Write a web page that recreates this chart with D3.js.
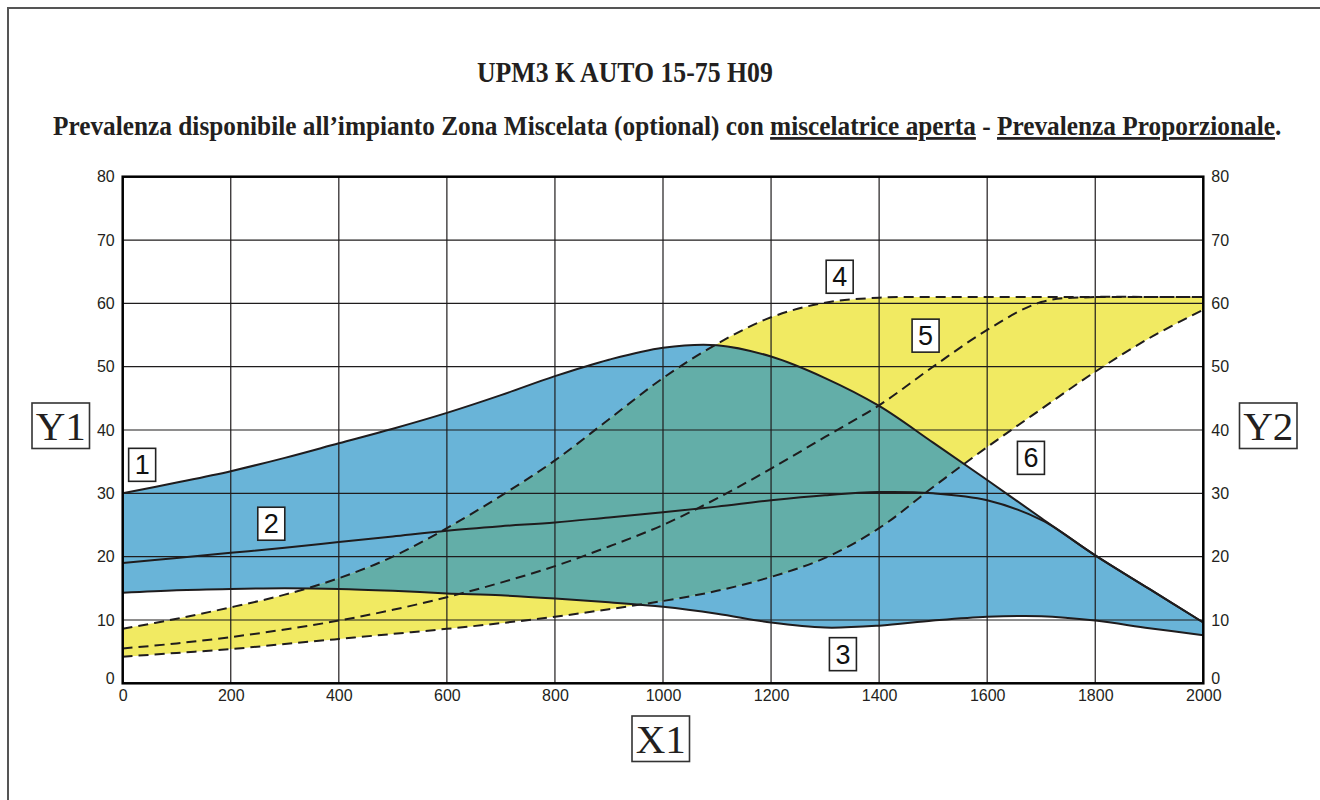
<!DOCTYPE html>
<html><head><meta charset="utf-8">
<script src="https://cdn.jsdelivr.net/npm/d3@7"></script>
<style>body{margin:0;background:#fff;overflow:hidden} svg{display:block}</style>
</head><body><svg id="c" width="1320" height="800"></svg>
<script>
// ---------- data ----------
const X = [0,100,200,300,400,500,600,700,800,900,1000,1100,1200,1300,1400,1500,1600,1700,1800,1900,2000];
// solid curves
const curve1 = [30.0,31.7,33.5,35.6,37.9,40.2,42.7,45.5,48.5,51.1,53.0,53.4,51.6,48.2,43.8,38.0,32.1,26.1,20.2,14.9,9.6];
const curve2 = [19.0,19.8,20.6,21.4,22.3,23.2,24.1,24.8,25.4,26.2,27.0,27.9,28.9,29.7,30.2,30.0,28.9,25.8,20.2,14.9,9.6];
const curve3 = [14.3,14.7,14.9,15.0,14.9,14.6,14.2,13.9,13.4,12.8,12.1,11.0,9.6,8.8,9.1,9.9,10.5,10.6,9.9,8.7,7.6];
// dashed curves
const curve4 = [8.6,10.2,12.0,14.0,16.6,20.0,24.5,29.6,35.2,41.7,48.2,53.6,57.8,60.1,60.9,61.0,61.0,61.0,61.0,61.0,61.0];
const curve5 = [5.5,6.3,7.3,8.5,9.9,11.6,13.6,15.9,18.5,21.6,25.0,29.2,33.9,38.9,43.9,50.0,55.8,60.2,61.0,61.0,61.0];
const curve6 = [4.2,4.8,5.4,6.2,7.0,7.8,8.6,9.5,10.5,11.7,13.0,14.6,16.8,19.8,24.5,31.0,37.3,43.3,49.2,54.5,59.0];
const xTicks = [0,200,400,600,800,1000,1200,1400,1600,1800,2000];
const yTicks = [0,10,20,30,40,50,60,70,80];
// numbered callouts: [label, x value, y value]
const callouts = [["1",36,34.5],["2",275,25.2],["3",1333,4.6],["4",1327,64.2],["5",1486,54.9],["6",1681,35.6]];
const title = "UPM3 K AUTO 15-75 H09";
const subtitleParts = [
  ["Prevalenza disponibile all\u2019impianto Zona Miscelata (optional) con ", false],
  ["miscelatrice aperta", true],
  [" - ", false],
  ["Prevalenza Proporzionale", true],
  [".", false]
];

// ---------- drawing ----------
const svg = d3.select('#c');
const x = d3.scaleLinear().domain([0,2000]).range([122.7,1203.3]);
const y = d3.scaleLinear().domain([0,80]).range([683.3,176.7]);
const BLUE = '#69b4d8', YELLOW = '#f1ea62', TEAL = '#63aea8', INK = '#1f1c1d';

// page frame
svg.append('rect').attr('x',8).attr('y',8).attr('width',1400).attr('height',900)
  .attr('fill','none').attr('stroke','#555').attr('stroke-width',2);

const curve = d3.curveCatmullRom.alpha(0.5);
const rows = X.map((v,i)=>({x:v,c1:curve1[i],c2:curve2[i],c3:curve3[i],c4:curve4[i],c5:curve5[i],c6:curve6[i]}));

const blueArea = d3.area().x(d=>x(d.x)).y0(d=>y(d.c3)).y1(d=>y(d.c1)).curve(curve);
const yellowArea = d3.area().x(d=>x(d.x)).y0(d=>y(d.c6)).y1(d=>y(d.c4)).curve(curve);

const defs = svg.append('defs');
defs.append('clipPath').attr('id','blueClip').append('path').attr('d', blueArea(rows));
defs.append('clipPath').attr('id','plotClip').append('rect')
  .attr('x',x(0)).attr('y',y(80)).attr('width',x(2000)-x(0)).attr('height',y(0)-y(80));

const plot = svg.append('g').attr('clip-path','url(#plotClip)');
plot.append('path').attr('d', blueArea(rows)).attr('fill', BLUE);
plot.append('path').attr('d', yellowArea(rows)).attr('fill', YELLOW);
plot.append('path').attr('d', yellowArea(rows)).attr('fill', TEAL).attr('clip-path','url(#blueClip)');

// grid
const grid = svg.append('g').attr('stroke', INK).attr('stroke-width',1.2);
grid.selectAll('line.v').data(xTicks).join('line').attr('class','v')
  .attr('x1',d=>x(d)).attr('x2',d=>x(d)).attr('y1',y(0)).attr('y2',y(80));
grid.selectAll('line.h').data(yTicks).join('line').attr('class','h')
  .attr('y1',d=>y(d)).attr('y2',d=>y(d)).attr('x1',x(0)).attr('x2',x(2000));

// curves
const mk = k => d3.line().x(d=>x(d.x)).y(d=>y(d[k])).curve(curve);
['c1','c2','c3'].forEach(k=>{
  plot.append('path').attr('d', mk(k)(rows)).attr('fill','none').attr('stroke',INK).attr('stroke-width',2);
});
['c4','c5','c6'].forEach(k=>{
  plot.append('path').attr('d', mk(k)(rows)).attr('fill','none').attr('stroke',INK)
    .attr('stroke-width',2).attr('stroke-dasharray','10,6');
});

// plot frame
svg.append('rect').attr('x',x(0)).attr('y',y(80)).attr('width',x(2000)-x(0)).attr('height',y(0)-y(80))
  .attr('fill','none').attr('stroke','#000').attr('stroke-width',2.5);

// axes labels
const axStyle = g => { g.select('.domain').remove(); g.selectAll('.tick line').remove();
  g.selectAll('text').attr('font-family','Liberation Sans, Arial, sans-serif').attr('font-size',16).attr('fill','#231f20'); };
const yAxStyle = g => { axStyle(g); g.selectAll('.tick').filter(d=>d===0).select('text').attr('y',-5); };
svg.append('g').attr('transform',`translate(${x(0)},0)`)
  .call(d3.axisLeft(y).tickValues(yTicks).tickSize(0).tickPadding(8).tickFormat(d3.format('d'))).call(yAxStyle);
svg.append('g').attr('transform',`translate(${x(2000)},0)`)
  .call(d3.axisRight(y).tickValues(yTicks).tickSize(0).tickPadding(8).tickFormat(d3.format('d'))).call(yAxStyle);
svg.append('g').attr('transform',`translate(0,${y(0)})`)
  .call(d3.axisBottom(x).tickValues(xTicks).tickSize(0).tickPadding(6).tickFormat(d3.format('d'))).call(axStyle);

// callouts
const cg = svg.append('g');
callouts.forEach(([t,vx,vy])=>{
  const cx = x(vx), cy = y(vy);
  cg.append('rect').attr('x',cx-13.5).attr('y',cy-16.5).attr('width',27).attr('height',33)
    .attr('fill','#fff').attr('stroke','#222').attr('stroke-width',1.6);
  cg.append('text').attr('x',cx).attr('y',cy+9.5).attr('text-anchor','middle')
    .attr('font-family','Liberation Sans, Arial, sans-serif').attr('font-size',27).attr('fill','#111').text(t);
});

// axis name boxes
[["Y1",32,403],["Y2",1239.5,403],["X1",632,716]].forEach(([t,bx,by])=>{
  svg.append('rect').attr('x',bx).attr('y',by).attr('width',57.5).attr('height',45.5)
    .attr('fill','#fff').attr('stroke','#333').attr('stroke-width',1.6);
  svg.append('text').attr('x',bx+28.75).attr('y',by+37).attr('text-anchor','middle')
    .attr('font-family','Liberation Serif, Times New Roman, serif').attr('font-size',41).attr('fill','#231f20').text(t);
});

// titles fitted to reference widths
function fitted(parts, left, right, baseline, size){
  const g = svg.append('g');
  const t = g.append('text').attr('x',0).attr('y',0).style('white-space','pre')
    .attr('font-family','Liberation Serif, Times New Roman, serif').attr('font-weight','bold')
    .attr('font-size',size).attr('fill','#231f20');
  parts.forEach(([s,u])=>{ const ts = t.append('tspan').text(s); if(u) ts.style('text-decoration','underline'); });
  const w = t.node().getComputedTextLength();
  g.attr('transform',`translate(${left},${baseline}) scale(${(right-left)/w},1)`);
}
fitted([[title,false]], 477, 773, 82, 28.5);
fitted(subtitleParts, 53, 1282, 135, 27);
</script></body></html>
